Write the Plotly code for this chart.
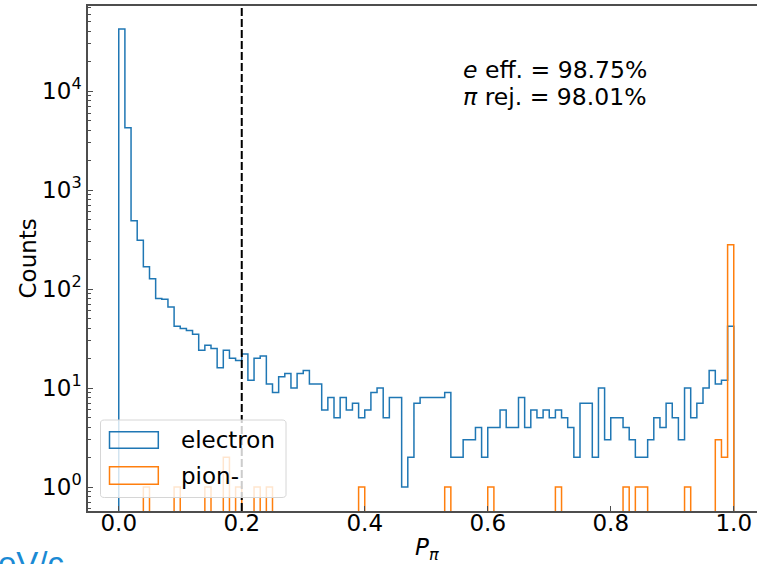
import numpy as np
import plotly.graph_objects as go

# ---------------- data ----------------
bin_edges = [round(i * 0.01, 2) for i in range(101)]

electron_counts = [
    42300, 4250, 490, 311, 168, 127, 80, 79, 66, 42,
    40, 38, 35, 24, 27, 25, 16, 24, 20, 19,
    22, 12, 20, 21, 11, 9, 13, 14, 10, 14,
    15, 11, 11, 6, 8, 5, 8, 6, 7, 5,
    6, 9, 10, 5, 8, 8, 1, 2, 7, 8,
    8, 8, 8, 9, 2, 2, 3, 3, 4, 2,
    4, 4, 6, 4, 4, 8, 4, 6, 5, 6,
    5, 6, 5, 4, 2, 7, 7, 2, 10, 3,
    5, 5, 4, 3, 2, 2, 3, 5, 4, 7,
    5, 3, 10, 5, 7, 10, 15, 11, 12, 42,
]

pion_counts = [0] * 100
pion_nonzero = {4: 1, 9: 1, 14: 1, 17: 2, 19: 1, 22: 1, 24: 1, 39: 1, 53: 1,
                60: 1, 71: 1, 82: 1, 84: 1, 85: 1, 92: 1, 97: 3, 98: 2, 99: 280}
for k, v in pion_nonzero.items():
    pion_counts[k] = v

series_names = ["electron", "pion-"]
series_colors = ["#1f77b4", "#ff7f0e"]
CUT = 0.2
stats_lines = ["<i>e</i> eff. = 98.75%", "<i>π</i> rej. = 98.01%"]
x_ticks = [0.0, 0.2, 0.4, 0.6, 0.8, 1.0]
x_ticktext = ["0.0", "0.2", "0.4", "0.6", "0.8", "1.0"]
y_ticks = [1, 10, 100, 1000, 10000]
y_ticktext = ["10<sup>0</sup>", "10<sup>1</sup>", "10<sup>2</sup>", "10<sup>3</sup>", "10<sup>4</sup>"]

# ---------------- layout geometry ----------------
W, H = 757, 564
L, R, T, B = 88, 0, 6, 53
PW, PH = W - L - R, H - T - B
XR = [-0.05, -0.05 + PW / 615.0]
YR = [-0.2424, 4.859]

def px2x(px):
    """pixel x -> paper x"""
    return (px - L) / PW

def py2y(py):
    """pixel y -> paper y"""
    return (H - B - py) / PH

FLOOR = 1e-3

def step_xy(edges, counts):
    xs = [edges[0]] + list(edges[:-1]) + [edges[-1]]
    ys = [FLOOR] + [c if c > 0 else FLOOR for c in counts] + [FLOOR]
    return xs, ys

fig = go.Figure()
for name, color, counts in zip(series_names, series_colors, [electron_counts, pion_counts]):
    xs, ys = step_xy(bin_edges, counts)
    fig.add_trace(go.Scatter(x=xs, y=ys, mode="lines", line=dict(color=color, width=1.5, shape="hv"),
                             name=name, showlegend=False, hoverinfo="skip"))

minor_vals = [m * 10 ** k for k in range(-1, 5) for m in range(2, 10)
              if YR[0] < np.log10(m * 10 ** k) < YR[1]]

FONT = "DejaVu Sans"
FS = 23
axis_col = "#4d4d4d"

fig.update_layout(
    width=W, height=H, autosize=False,
    margin=dict(l=L, r=R, t=T, b=B, pad=0),
    plot_bgcolor="white", paper_bgcolor="white",
    font=dict(family=FONT, size=FS, color="black"),
    showlegend=False,
    xaxis=dict(range=XR, tickvals=x_ticks, ticktext=x_ticktext, ticks="inside", ticklen=5,
               tickwidth=1, tickcolor=axis_col, showline=True, linecolor=axis_col, linewidth=1.5,
               mirror=True, showgrid=False, zeroline=False, tickfont=dict(size=FS),
               ticklabelstandoff=-9),
    yaxis=dict(type="log", range=YR, tickvals=y_ticks, ticktext=y_ticktext, ticks="inside",
               ticklen=5, tickwidth=1, tickcolor=axis_col, showline=True, linecolor=axis_col,
               linewidth=1.5, showgrid=False, zeroline=False, tickfont=dict(size=FS),
               minor=dict(tickvals=minor_vals, ticks="inside", ticklen=3, tickwidth=0.8,
                          tickcolor=axis_col, showgrid=False)),
)

# cut line
fig.add_shape(type="line", xref="x", yref="paper", x0=CUT, x1=CUT, y0=0, y1=1,
              line=dict(color="black", width=2, dash="8px,3px"), layer="above")

# legend (matplotlib style, drawn manually)
def rounded_rect(x0, y0, x1, y1, r):
    return (f"M{x0+r},{y0} L{x1-r},{y0} Q{x1},{y0} {x1},{y0+r} L{x1},{y1-r} Q{x1},{y1} {x1-r},{y1} "
            f"L{x0+r},{y1} Q{x0},{y1} {x0},{y1-r} L{x0},{y0+r} Q{x0},{y0} {x0+r},{y0} Z")

lx0, lx1, ly0, ly1 = 100.5, 286, 420, 497.5
fig.add_shape(type="path", xref="paper", yref="paper",
              path=rounded_rect(px2x(lx0), py2y(ly1), px2x(lx1), py2y(ly0), 0.006),
              fillcolor="rgba(255,255,255,0.8)", line=dict(color="#d6d6d6", width=1), layer="above")
patch_rows = [(431.7, 448.3, 440), (466.7, 484.3, 476)]
for (pt, pb, cy), name, color in zip(patch_rows, series_names, series_colors):
    fig.add_shape(type="rect", xref="paper", yref="paper", x0=px2x(109.5), x1=px2x(158.3),
                  y0=py2y(pb), y1=py2y(pt), line=dict(color=color, width=1.5),
                  fillcolor="rgba(0,0,0,0)", layer="above")
    fig.add_annotation(xref="paper", yref="paper", x=px2x(178.5), y=py2y(cy), text=name,
                       showarrow=False, xanchor="left", yanchor="middle", font=dict(size=FS))

# statistics text
for line, cy in zip(stats_lines, [70, 96.7]):
    fig.add_annotation(xref="paper", yref="paper", x=px2x(461), y=py2y(cy), text=line,
                       showarrow=False, xanchor="left", yanchor="middle", font=dict(size=23.5))

# axis labels
fig.add_annotation(xref="paper", yref="paper", x=px2x(427), y=py2y(549),
                   text="<i>P</i><sub><i>π</i></sub>", showarrow=False,
                   xanchor="center", yanchor="middle", font=dict(size=FS))
fig.add_annotation(xref="paper", yref="paper", x=px2x(27), y=py2y(258.5), text="Counts",
                   textangle=-90, showarrow=False, xanchor="center", yanchor="middle",
                   font=dict(size=FS))

# cropped slide text at bottom-left
fig.add_annotation(xref="paper", yref="paper", x=px2x(-4), y=py2y(543), text="eV/c",
                   showarrow=False, xanchor="left", yanchor="top",
                   font=dict(size=33, color="#1a8ad4", family="Liberation Sans"))

fig.write_html("out.html", config={"displayModeBar": False},
               post_script="document.body.style.margin='0px';")
